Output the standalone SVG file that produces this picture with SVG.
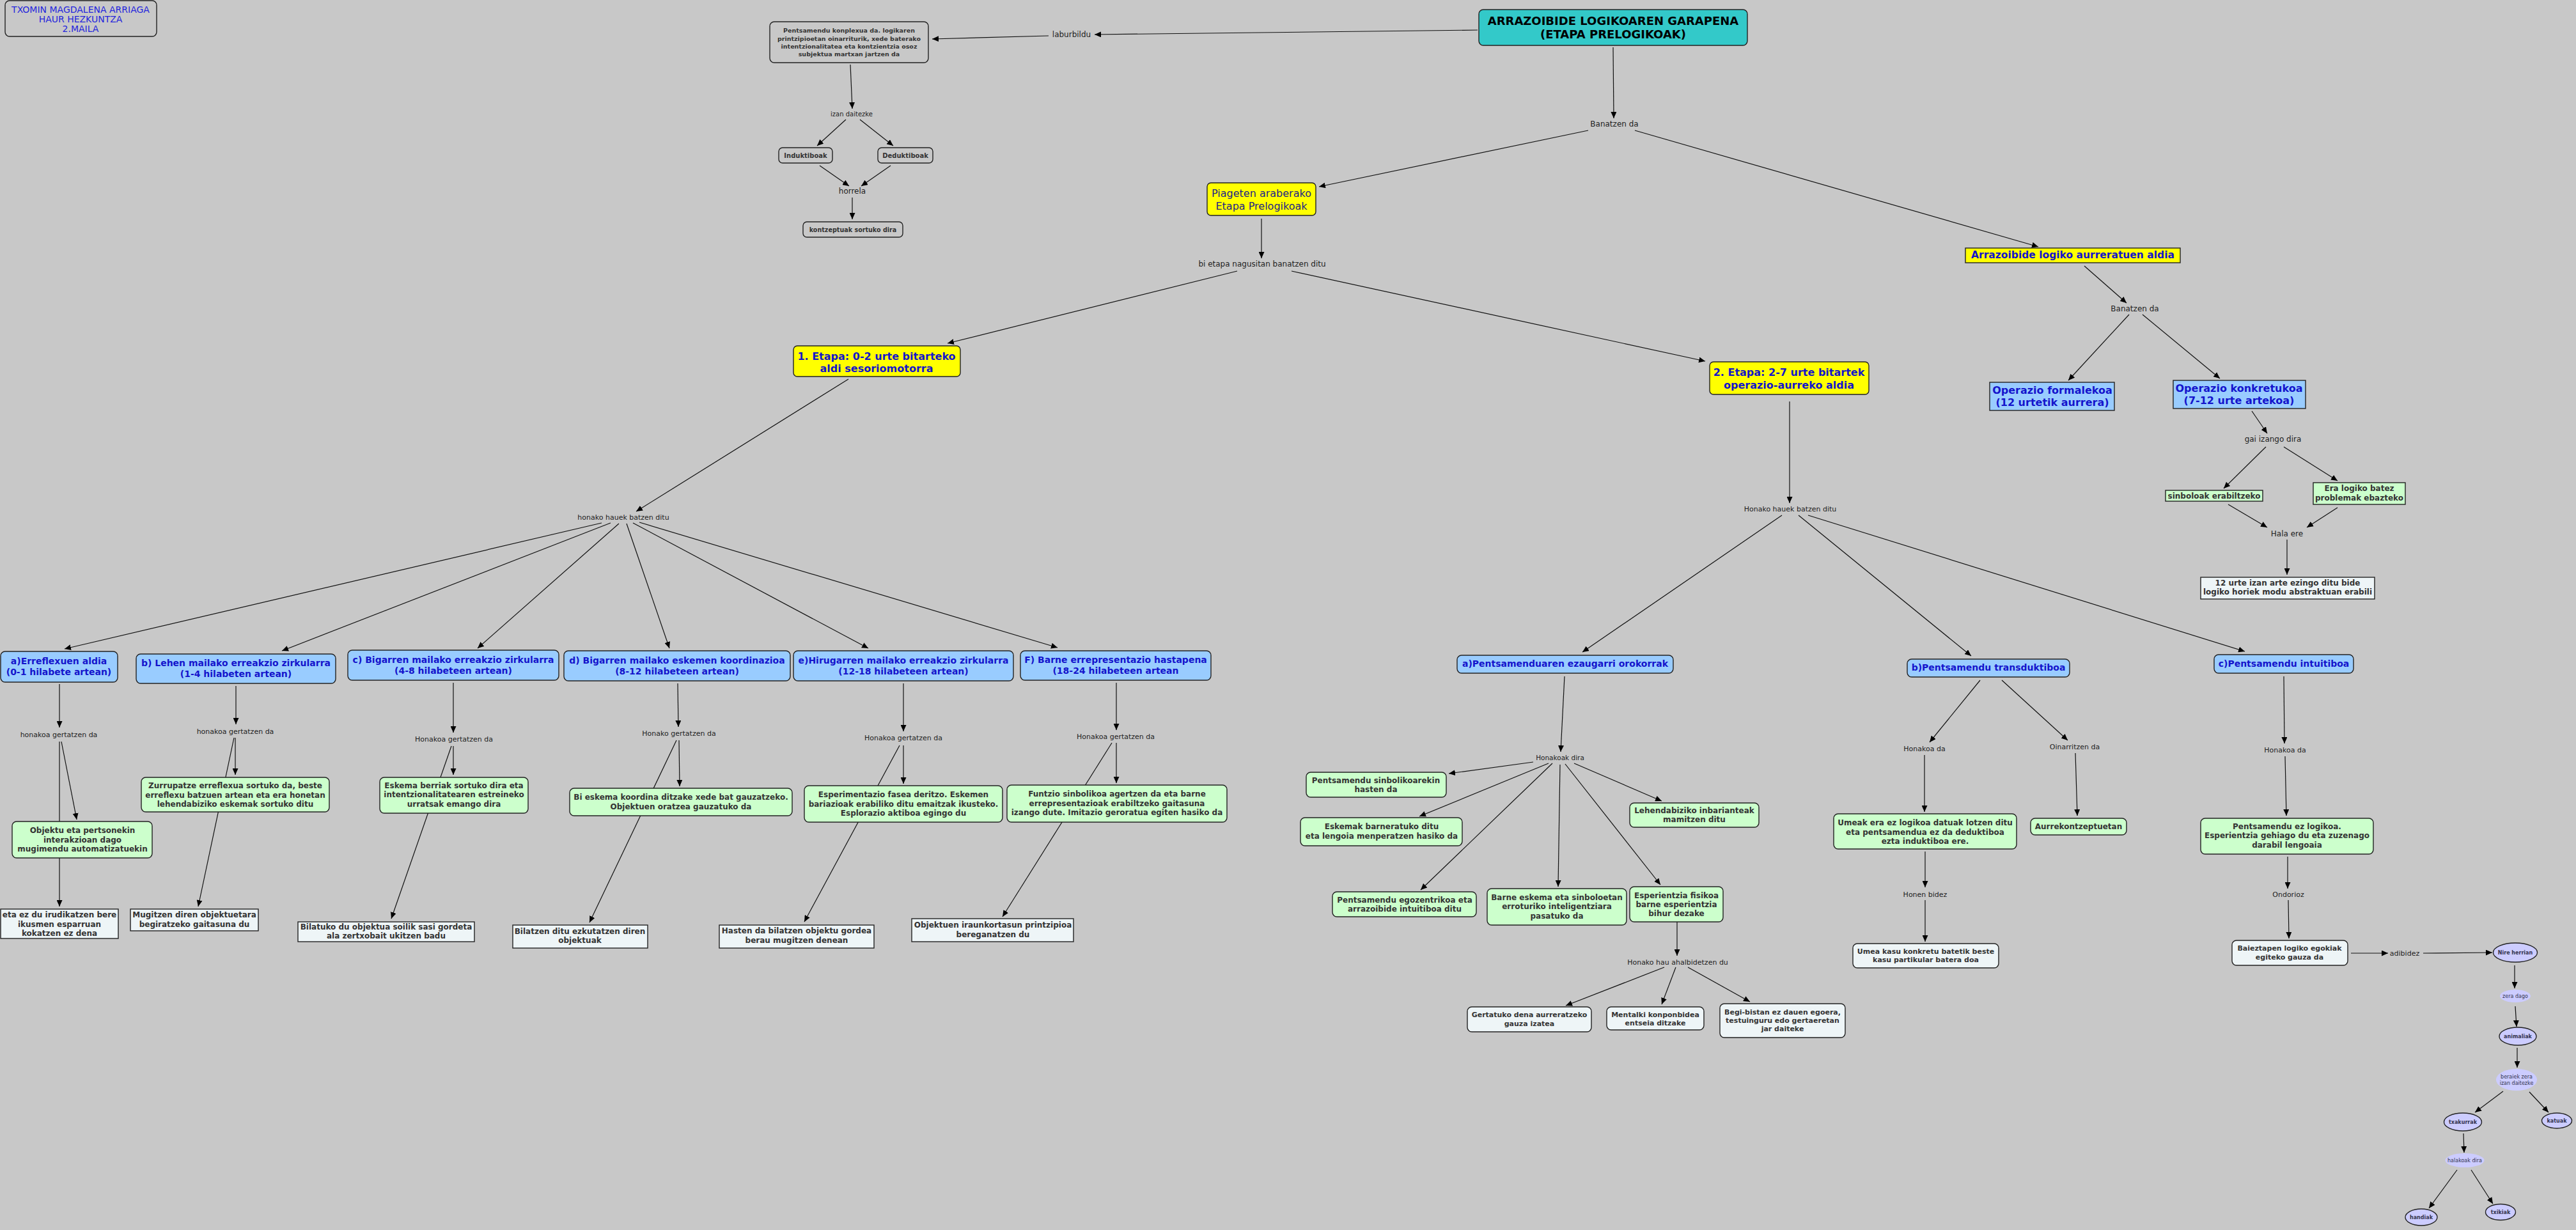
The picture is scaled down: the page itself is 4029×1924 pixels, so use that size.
<svg xmlns="http://www.w3.org/2000/svg" width="4029" height="1924" viewBox="0 0 4029 1924">
<defs>
<marker id="a" viewBox="0 0 10 9" markerWidth="10" markerHeight="9" refX="10" refY="4.5" orient="auto" markerUnits="userSpaceOnUse"><path d="M0,0 L10,4.5 L0,9 z" fill="#000"/></marker>
<style>
text{font-family:"DejaVu Sans",Verdana,sans-serif;dominant-baseline:central;text-anchor:middle}
.l{font-size:11px;fill:#222}
.l12{font-size:12px;fill:#222}
.h{font-weight:bold;fill:#1414cc;font-size:14px}
.h16{font-weight:bold;fill:#1414cc;font-size:16px}
.g{font-weight:bold;fill:#333;font-size:12px}
.w{font-weight:bold;fill:#333;font-size:11px}
.s{font-weight:bold;fill:#333;font-size:9.6px}
.e{font-weight:bold;fill:#33334d;font-size:8px}
.er{fill:#33334d;font-size:8px}
rect,ellipse{stroke:#222;stroke-width:1.4}
.bg{fill:#c8c8c8}
.blue{fill:#99ccff}
.green{fill:#ccffcc}
.yel{fill:#ffff00}
.wht{fill:#eef5f7}
.lav{fill:#ccccff}
.ns{stroke:none}
#c line{stroke:#111;stroke-width:1.2;marker-end:url(#a)}
</style>
</defs>
<rect x="0" y="0" width="4029" height="1924" fill="#c8c8c8" style="stroke:none"/>
<g id="c">
<line x1="2311" y1="47" x2="1712" y2="54"/>
<line x1="1640" y1="56" x2="1458" y2="61"/>
<line x1="1330" y1="101" x2="1333" y2="170"/>
<line x1="1323" y1="187" x2="1278" y2="228"/>
<line x1="1345" y1="187" x2="1397" y2="228"/>
<line x1="1282" y1="259" x2="1328" y2="291"/>
<line x1="1393" y1="259" x2="1347" y2="291"/>
<line x1="1333" y1="309" x2="1333" y2="343"/>
<line x1="2523" y1="74" x2="2524" y2="185"/>
<line x1="2484" y1="204" x2="2063" y2="292"/>
<line x1="2557" y1="204" x2="3188" y2="386"/>
<line x1="1973" y1="342" x2="1973" y2="404"/>
<line x1="1935" y1="424" x2="1482" y2="537"/>
<line x1="2020" y1="424" x2="2667" y2="565"/>
<line x1="3260" y1="416" x2="3326" y2="474"/>
<line x1="3330" y1="492" x2="3235" y2="595"/>
<line x1="3351" y1="492" x2="3472" y2="592"/>
<line x1="3522" y1="643" x2="3546" y2="678"/>
<line x1="3544" y1="699" x2="3478" y2="764"/>
<line x1="3572" y1="699" x2="3656" y2="752"/>
<line x1="3485" y1="789" x2="3546" y2="825"/>
<line x1="3656" y1="794" x2="3608" y2="825"/>
<line x1="3577" y1="844" x2="3577" y2="899"/>
<line x1="1327" y1="593" x2="995" y2="800"/>
<line x1="2799" y1="628" x2="2799" y2="787"/>
<line x1="941" y1="818" x2="101" y2="1015"/>
<line x1="955" y1="818" x2="441" y2="1018"/>
<line x1="968" y1="819" x2="747" y2="1014"/>
<line x1="980" y1="819" x2="1047" y2="1014"/>
<line x1="990" y1="818" x2="1358" y2="1014"/>
<line x1="1000" y1="817" x2="1654" y2="1013"/>
<line x1="93" y1="1070" x2="93" y2="1138"/>
<line x1="96" y1="1160" x2="120" y2="1282"/>
<line x1="93" y1="1160" x2="93" y2="1418"/>
<line x1="369" y1="1073" x2="369" y2="1133"/>
<line x1="368" y1="1154" x2="368" y2="1212"/>
<line x1="366" y1="1154" x2="310" y2="1418"/>
<line x1="709" y1="1068" x2="709" y2="1146"/>
<line x1="709" y1="1167" x2="709" y2="1212"/>
<line x1="706" y1="1167" x2="612" y2="1437"/>
<line x1="1060" y1="1069" x2="1061" y2="1137"/>
<line x1="1062" y1="1158" x2="1063" y2="1230"/>
<line x1="1058" y1="1158" x2="922" y2="1443"/>
<line x1="1413" y1="1069" x2="1413" y2="1144"/>
<line x1="1413" y1="1166" x2="1413" y2="1226"/>
<line x1="1407" y1="1166" x2="1258" y2="1442"/>
<line x1="1746" y1="1068" x2="1746" y2="1142"/>
<line x1="1746" y1="1162" x2="1746" y2="1225"/>
<line x1="1739" y1="1162" x2="1568" y2="1434"/>
<line x1="2787" y1="806" x2="2475" y2="1020"/>
<line x1="2813" y1="806" x2="3083" y2="1026"/>
<line x1="2828" y1="806" x2="3511" y2="1019"/>
<line x1="2447" y1="1058" x2="2441" y2="1176"/>
<line x1="2398" y1="1192" x2="2266" y2="1210"/>
<line x1="2422" y1="1194" x2="2220" y2="1277"/>
<line x1="2428" y1="1194" x2="2222" y2="1392"/>
<line x1="2440" y1="1196" x2="2437" y2="1387"/>
<line x1="2448" y1="1195" x2="2597" y2="1384"/>
<line x1="2462" y1="1194" x2="2599" y2="1253"/>
<line x1="2623" y1="1442" x2="2623" y2="1495"/>
<line x1="2603" y1="1513" x2="2449" y2="1573"/>
<line x1="2621" y1="1513" x2="2599" y2="1571"/>
<line x1="2640" y1="1513" x2="2737" y2="1567"/>
<line x1="3097" y1="1064" x2="3018" y2="1161"/>
<line x1="3131" y1="1064" x2="3234" y2="1158"/>
<line x1="3010" y1="1181" x2="3010" y2="1270"/>
<line x1="3246" y1="1178" x2="3249" y2="1276"/>
<line x1="3011" y1="1332" x2="3011" y2="1388"/>
<line x1="3011" y1="1408" x2="3011" y2="1473"/>
<line x1="3572" y1="1058" x2="3573" y2="1163"/>
<line x1="3574" y1="1183" x2="3576" y2="1276"/>
<line x1="3578" y1="1340" x2="3578" y2="1390"/>
<line x1="3579" y1="1408" x2="3580" y2="1468"/>
<line x1="3677" y1="1491" x2="3735" y2="1491"/>
<line x1="3790" y1="1491" x2="3898" y2="1490"/>
<line x1="3933" y1="1510" x2="3933" y2="1546"/>
<line x1="3934" y1="1574" x2="3936" y2="1606"/>
<line x1="3937" y1="1639" x2="3937" y2="1670"/>
<line x1="3915" y1="1707" x2="3871" y2="1740"/>
<line x1="3956" y1="1708" x2="3986" y2="1740"/>
<line x1="3853" y1="1773" x2="3854" y2="1803"/>
<line x1="3843" y1="1830" x2="3799" y2="1890"/>
<line x1="3865" y1="1830" x2="3899" y2="1883"/>
</g>
<g id="n_author"><rect class="bg" x="8" y="1" width="237" height="56" rx="7"/><text x="126" y="15" style="font-size:14px;fill:#2525dd">TXOMIN MAGDALENA ARRIAGA</text><text x="126" y="30" style="font-size:14px;fill:#2525dd">HAUR HEZKUNTZA</text><text x="126" y="45" style="font-size:14px;fill:#2525dd">2.MAILA</text></g>
<g id="n_konplexua"><rect class="bg" x="1204" y="34" width="248" height="64" rx="7"/><text class="s" style="font-size:9.5px" x="1328" y="47">Pentsamendu konplexua da. logikaren</text><text class="s" style="font-size:9.5px" x="1328" y="60">printzipioetan oinarriturik, xede baterako</text><text class="s" style="font-size:9.5px" x="1328" y="72">intentzionalitatea eta kontzientzia osoz</text><text class="s" style="font-size:9.5px" x="1328" y="84">subjektua martxan jartzen da</text></g>
<g id="l_izan"><text x="1332" y="178" style="font-size:10px;fill:#222">izan daitezke</text></g>
<g id="n_induk"><rect class="bg" x="1218" y="231" width="84" height="24" rx="6"/><text class="s" style="font-size:10px" x="1260" y="243">Induktiboak</text></g>
<g id="n_deduk"><rect class="bg" x="1373" y="231" width="86" height="24" rx="6"/><text class="s" style="font-size:10px" x="1416" y="243">Deduktiboak</text></g>
<g id="l_horrela"><text class="l12" x="1333" y="299">horrela</text></g>
<g id="n_kontzeptuak"><rect class="bg" x="1256" y="347" width="156" height="24" rx="6"/><text class="s" x="1334" y="359">kontzeptuak sortuko dira</text></g>
<g id="l_laburbildu"><text class="l12" x="1676" y="54">laburbildu</text></g>
<g id="n_title"><rect x="2313" y="15" width="420" height="56" rx="7" fill="#33c9c9"/><text x="2523" y="32" style="font-size:18px;font-weight:bold;fill:#000">ARRAZOIBIDE LOGIKOAREN GARAPENA</text><text x="2523" y="53" style="font-size:18px;font-weight:bold;fill:#000">(ETAPA PRELOGIKOAK)</text></g>
<g id="l_banatzen1"><text class="l12" x="2525" y="194">Banatzen da</text></g>
<g id="n_piaget"><rect class="yel" x="1888" y="286" width="170" height="51" rx="6"/><text x="1973" y="302" style="font-size:16px;fill:#222288">Piageten araberako</text><text x="1973" y="322" style="font-size:16px;fill:#222288">Etapa Prelogikoak</text></g>
<g id="l_bietapa"><text class="l12" x="1974" y="413">bi etapa nagusitan banatzen ditu</text></g>
<g id="n_etapa1"><rect class="yel" x="1241" y="541" width="261" height="48" rx="6"/><text class="h16" x="1371" y="557">1. Etapa: 0-2 urte bitarteko</text><text class="h16" x="1371" y="576">aldi sesoriomotorra</text></g>
<g id="n_etapa2"><rect class="yel" x="2674" y="566" width="249" height="51" rx="6"/><text class="h16" x="2798" y="582">2. Etapa: 2-7 urte bitartek</text><text class="h16" x="2798" y="602">operazio-aurreko aldia</text></g>
<g id="l_honako1"><text class="l" x="975" y="809">honako hauek batzen ditu</text></g>
<g id="l_honako2"><text class="l" x="2800" y="796">Honako hauek batzen ditu</text></g>
<g id="n_aurreratuen"><rect class="yel" x="3074" y="388" width="336" height="23"/><text class="h" style="font-size:15.5px" x="3242" y="399">Arrazoibide logiko aurreratuen aldia</text></g>
<g id="l_banatzen2"><text class="l12" x="3339" y="483">Banatzen da</text></g>
<g id="n_formal"><rect class="blue" x="3112" y="598" width="195" height="44"/><text class="h16" x="3210" y="610">Operazio formalekoa</text><text class="h16" x="3210" y="629">(12 urtetik aurrera)</text></g>
<g id="n_konkretu"><rect class="blue" x="3399" y="595" width="207" height="44"/><text class="h16" x="3502" y="607">Operazio konkretukoa</text><text class="h16" x="3502" y="626">(7-12 urte artekoa)</text></g>
<g id="l_gai"><text class="l12" x="3555" y="687">gai izango dira</text></g>
<g id="n_sinbolo"><rect class="green" x="3387" y="767" width="152" height="17"/><text class="g" x="3463" y="776">sinboloak erabiltzeko</text></g>
<g id="n_eralogiko"><rect class="green" x="3618" y="755" width="144" height="34"/><text class="g" x="3690" y="764">Era logiko batez</text><text class="g" x="3690" y="779">problemak ebazteko</text></g>
<g id="l_halaere"><text class="l12" x="3577" y="835">Hala ere</text></g>
<g id="n_12urte"><rect class="wht" x="3442" y="903" width="272" height="34"/><text class="g" x="3578" y="912">12 urte izan arte ezingo ditu bide</text><text class="g" x="3578" y="926">logiko horiek modu abstraktuan erabili</text></g>
<g id="n_a"><rect class="blue" x="1" y="1019" width="183" height="48" rx="7"/><text class="h" x="92" y="1034">a)Erreflexuen aldia</text><text class="h" x="92" y="1051">(0-1 hilabete artean)</text></g>
<g id="n_b"><rect class="blue" x="213" y="1023" width="312" height="46" rx="7"/><text class="h" x="369" y="1037">b) Lehen mailako erreakzio zirkularra</text><text class="h" x="369" y="1054">(1-4 hilabeten artean)</text></g>
<g id="n_c"><rect class="blue" x="544" y="1017" width="330" height="47" rx="7"/><text class="h" x="709" y="1032">c) Bigarren mailako erreakzio zirkularra</text><text class="h" x="709" y="1049">(4-8 hilabeteen artean)</text></g>
<g id="n_d"><rect class="blue" x="882" y="1018" width="354" height="47" rx="7"/><text class="h" x="1059" y="1033">d) Bigarren mailako eskemen koordinazioa</text><text class="h" x="1059" y="1050">(8-12 hilabeteen artean)</text></g>
<g id="n_e"><rect class="blue" x="1241" y="1018" width="344" height="47" rx="7"/><text class="h" x="1413" y="1033">e)Hirugarren mailako erreakzio zirkularra</text><text class="h" x="1413" y="1050">(12-18 hilabeteen artean)</text></g>
<g id="n_f"><rect class="blue" x="1596" y="1018" width="298" height="46" rx="7"/><text class="h" x="1745" y="1032">F) Barne errepresentazio hastapena</text><text class="h" x="1745" y="1049">(18-24 hilabeteen artean</text></g>
<g id="l_ga"><text class="l" x="92" y="1149">honakoa gertatzen da</text></g>
<g id="l_gb"><text class="l" x="368" y="1144">honakoa gertatzen da</text></g>
<g id="l_gc"><text class="l" x="710" y="1156">Honakoa gertatzen da</text></g>
<g id="l_gd"><text class="l" x="1062" y="1147">Honako gertatzen da</text></g>
<g id="l_ge"><text class="l" x="1413" y="1154">Honakoa gertatzen da</text></g>
<g id="l_gf"><text class="l" x="1745" y="1152">Honakoa gertatzen da</text></g>
<g id="n_objektu"><rect class="green" x="19" y="1285" width="219" height="57" rx="7"/><text class="g" x="129" y="1299">Objektu eta pertsonekin</text><text class="g" x="129" y="1314">interakzioan dago</text><text class="g" x="129" y="1328">mugimendu automatizatuekin</text></g>
<g id="n_zurrupatze"><rect class="green" x="221" y="1216" width="294" height="54" rx="7"/><text class="g" x="368" y="1229">Zurrupatze erreflexua sortuko da, beste</text><text class="g" x="368" y="1244">erreflexu batzuen artean eta era honetan</text><text class="g" x="368" y="1258">lehendabiziko eskemak sortuko ditu</text></g>
<g id="n_eskemaberri"><rect class="green" x="594" y="1216" width="232" height="56" rx="7"/><text class="g" x="710" y="1229">Eskema berriak sortuko dira eta</text><text class="g" x="710" y="1243">intentzionalitatearen estreineko</text><text class="g" x="710" y="1258">urratsak emango dira</text></g>
<g id="n_bieskema"><rect class="green" x="891" y="1233" width="348" height="43" rx="7"/><text class="g" x="1065" y="1247">Bi eskema koordina ditzake xede bat gauzatzeko.</text><text class="g" x="1065" y="1262">Objektuen oratzea gauzatuko da</text></g>
<g id="n_esperimentazio"><rect class="green" x="1258" y="1229" width="310" height="57" rx="7"/><text class="g" x="1413" y="1243">Esperimentazio fasea deritzo. Eskemen</text><text class="g" x="1413" y="1258">bariazioak erabiliko ditu emaitzak ikusteko.</text><text class="g" x="1413" y="1272">Esplorazio aktiboa egingo du</text></g>
<g id="n_funtzio"><rect class="green" x="1575" y="1228" width="344" height="58" rx="7"/><text class="g" x="1747" y="1242">Funtzio sinbolikoa agertzen da eta barne</text><text class="g" x="1747" y="1257">errepresentazioak erabiltzeko gaitasuna</text><text class="g" x="1747" y="1271">izango dute. Imitazio geroratua egiten hasiko da</text></g>
<g id="n_etaez"><rect class="wht" x="1" y="1422" width="184" height="46"/><text class="g" x="93" y="1431">eta ez du irudikatzen bere</text><text class="g" x="93" y="1446">ikusmen esparruan</text><text class="g" x="93" y="1460">kokatzen ez dena</text></g>
<g id="n_mugitzen"><rect class="wht" x="204" y="1422" width="200" height="34"/><text class="g" x="304" y="1431">Mugitzen diren objektuetara</text><text class="g" x="304" y="1446">begiratzeko gaitasuna du</text></g>
<g id="n_bilatuko"><rect class="wht" x="466" y="1442" width="276" height="31"/><text class="g" x="604" y="1450">Bilatuko du objektua soilik sasi gordeta</text><text class="g" x="604" y="1464">ala zertxobait ukitzen badu</text></g>
<g id="n_bilatzen"><rect class="wht" x="802" y="1447" width="211" height="36"/><text class="g" x="907" y="1457">Bilatzen ditu ezkutatzen diren</text><text class="g" x="907" y="1471">objektuak</text></g>
<g id="n_hasten"><rect class="wht" x="1125" y="1447" width="242" height="36"/><text class="g" x="1246" y="1456">Hasten da bilatzen objektu gordea</text><text class="g" x="1246" y="1471">berau mugitzen denean</text></g>
<g id="n_iraunkor"><rect class="wht" x="1426" y="1437" width="253" height="36"/><text class="g" x="1553" y="1447">Objektuen iraunkortasun printzipioa</text><text class="g" x="1553" y="1462">bereganatzen du</text></g>
<g id="n_pa"><rect class="blue" x="2279" y="1025" width="338" height="28" rx="7"/><text class="h" x="2448" y="1038">a)Pentsamenduaren ezaugarri orokorrak</text></g>
<g id="l_honakoak"><text x="2440" y="1185" style="font-size:10.5px;fill:#222">Honakoak dira</text></g>
<g id="n_sinbolikoa"><rect class="green" x="2043" y="1208" width="219" height="39" rx="7"/><text class="g" x="2152" y="1221">Pentsamendu sinbolikoarekin</text><text class="g" x="2152" y="1235">hasten da</text></g>
<g id="n_eskemak"><rect class="green" x="2034" y="1279" width="253" height="44" rx="7"/><text class="g" x="2161" y="1293">Eskemak barneratuko ditu</text><text class="g" x="2161" y="1308">eta lengoia menperatzen hasiko da</text></g>
<g id="n_egozentrikoa"><rect class="green" x="2084" y="1395" width="225" height="39" rx="7"/><text class="g" x="2197" y="1408">Pentsamendu egozentrikoa eta</text><text class="g" x="2197" y="1422">arrazoibide intuitiboa ditu</text></g>
<g id="n_barne"><rect class="green" x="2326" y="1390" width="218" height="57" rx="7"/><text class="g" x="2435" y="1404">Barne eskema eta sinboloetan</text><text class="g" x="2435" y="1418">erroturiko inteligentziara</text><text class="g" x="2435" y="1433">pasatuko da</text></g>
<g id="n_esperientzia"><rect class="green" x="2549" y="1387" width="146" height="55" rx="7"/><text class="g" x="2622" y="1401">Esperientzia fisikoa</text><text class="g" x="2622" y="1415">barne esperientzia</text><text class="g" x="2622" y="1429">bihur dezake</text></g>
<g id="n_lehendabiziko"><rect class="green" x="2549" y="1256" width="202" height="38" rx="7"/><text class="g" x="2650" y="1268">Lehendabiziko inbarianteak</text><text class="g" x="2650" y="1282">mamitzen ditu</text></g>
<g id="l_ahalbide"><text class="l" x="2624" y="1505">Honako hau ahalbidetzen du</text></g>
<g id="n_gertatuko"><rect class="wht" x="2295" y="1575" width="194" height="39" rx="7"/><text class="w" x="2392" y="1587">Gertatuko dena aurreratzeko</text><text class="w" x="2392" y="1601">gauza izatea</text></g>
<g id="n_mentalki"><rect class="wht" x="2513" y="1575" width="152" height="36" rx="7"/><text class="w" x="2589" y="1587">Mentalki konponbidea</text><text class="w" x="2589" y="1600">entseia ditzake</text></g>
<g id="n_begi"><rect class="wht" x="2690" y="1570" width="196" height="53" rx="7"/><text class="w" x="2788" y="1583">Begi-bistan ez dauen egoera,</text><text class="w" x="2788" y="1596">testuinguru edo gertaeretan</text><text class="w" x="2788" y="1609">jar daiteke</text></g>
<g id="n_pb"><rect class="blue" x="2983" y="1031" width="254" height="28" rx="7"/><text class="h" x="3110" y="1044">b)Pentsamendu transduktiboa</text></g>
<g id="l_hdab"><text class="l" x="3010" y="1171">Honakoa da</text></g>
<g id="l_oinarri"><text class="l" x="3245" y="1168">Oinarritzen da</text></g>
<g id="n_umeak"><rect class="green" x="2868" y="1273" width="286" height="55" rx="7"/><text class="g" x="3011" y="1287">Umeak era ez logikoa datuak lotzen ditu</text><text class="g" x="3011" y="1302">eta pentsamendua ez da deduktiboa</text><text class="g" x="3011" y="1316">ezta induktiboa ere.</text></g>
<g id="n_aurrekontz"><rect class="green" x="3176" y="1280" width="150" height="26" rx="7"/><text class="g" x="3251" y="1293">Aurrekontzeptuetan</text></g>
<g id="l_honen"><text class="l" x="3011" y="1399">Honen bidez</text></g>
<g id="n_umea"><rect class="wht" x="2898" y="1476" width="228" height="38" rx="7"/><text class="w" x="3012" y="1488">Umea kasu konkretu batetik beste</text><text class="w" x="3012" y="1501">kasu partikular batera doa</text></g>
<g id="n_pc"><rect class="blue" x="3463" y="1024" width="218" height="29" rx="7"/><text class="h" x="3572" y="1038">c)Pentsamendu intuitiboa</text></g>
<g id="l_hdac"><text class="l" x="3574" y="1173">Honakoa da</text></g>
<g id="n_ezlogikoa"><rect class="green" x="3442" y="1280" width="270" height="56" rx="7"/><text class="g" x="3577" y="1293">Pentsamendu ez logikoa.</text><text class="g" x="3577" y="1307">Esperientzia gehiago du eta zuzenago</text><text class="g" x="3577" y="1322">darabil lengoaia</text></g>
<g id="l_ondorioz"><text class="l" x="3579" y="1399">Ondorioz</text></g>
<g id="n_baieztapen"><rect class="wht" x="3491" y="1471" width="181" height="39" rx="7"/><text class="w" x="3581" y="1483">Baieztapen logiko egokiak</text><text class="w" x="3581" y="1497">egiteko gauza da</text></g>
<g id="l_adibidez"><text class="l" x="3761" y="1491">adibidez</text></g>
<g id="n_nire"><ellipse class="lav" cx="3934" cy="1490" rx="34.5" ry="15"/><text class="e" x="3934" y="1490">Nire herrian</text></g>
<g id="l_zera"><ellipse class="lav ns" cx="3934" cy="1558" rx="24" ry="10"/><text class="er" x="3934" y="1558">zera dago</text></g>
<g id="n_animaliak"><ellipse class="lav" cx="3938" cy="1621" rx="29" ry="14"/><text class="e" x="3938" y="1621">animaliak</text></g>
<g id="l_beraiek"><ellipse class="lav ns" cx="3936" cy="1689" rx="32" ry="17"/><text class="er" x="3936" y="1684">beraiek zera</text><text class="er" x="3936" y="1694">izan daitezke</text></g>
<g id="n_txakurrak"><ellipse class="lav" cx="3852" cy="1755" rx="29.5" ry="14"/><text class="e" x="3852" y="1755">txakurrak</text></g>
<g id="n_katuak"><ellipse class="lav" cx="3999" cy="1753" rx="23.5" ry="12"/><text class="e" x="3999" y="1753">katuak</text></g>
<g id="l_halakoak"><ellipse class="lav ns" cx="3855" cy="1815" rx="30.5" ry="11"/><text class="er" x="3855" y="1815">halakoak dira</text></g>
<g id="n_handiak"><ellipse class="lav" cx="3787" cy="1904" rx="25" ry="13"/><text class="e" x="3787" y="1904">handiak</text></g>
<g id="n_txikiak"><ellipse class="lav" cx="3911" cy="1896" rx="23.5" ry="12.5"/><text class="e" x="3911" y="1896">txikiak</text></g>
</svg>
